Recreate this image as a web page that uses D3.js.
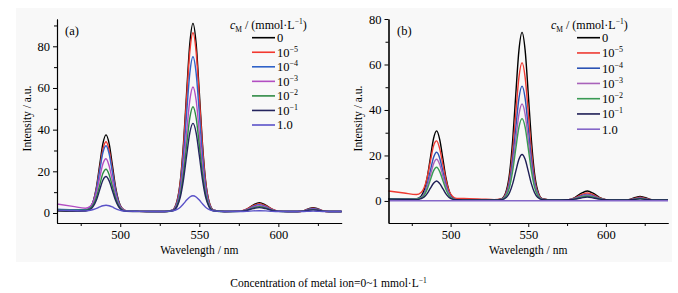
<!DOCTYPE html>
<html>
<head>
<meta charset="utf-8">
<script src="https://cdn.jsdelivr.net/npm/d3@7"></script>
<style>
  html, body { margin: 0; padding: 0; background: #ffffff; }
  svg { display: block; }
  text { font-family: "Liberation Serif", "Times New Roman", serif; fill: #000; }
</style>
</head>
<body>
<svg id="chart" width="678" height="293"></svg>
<script>
// ---------------- data ----------------
const wavelengths = [460, 470, 478, 481, 483, 485, 487, 489, 491, 493, 495, 497, 499, 501, 504, 512, 520, 528,
  533, 536, 538, 540, 542, 544, 546, 548, 550, 552, 554, 556, 559, 566,
  576, 580, 584, 588, 592, 596, 600, 606, 612, 616, 619, 622, 625, 628, 632, 640];

const legendBase = ["0", "10", "10", "10", "10", "10", "1.0"];
const legendExp  = ["", "\u22125", "\u22124", "\u22123", "\u22122", "\u22121", ""];

// panel (a)
const a_c0    = [1.0, 0.9, 1.0, 2.4, 5.8, 12.7, 23.1, 33.2, 37.5, 33.2, 23.1, 12.7, 5.8, 2.4, 1.0, 0.8, 0.7, 0.7, 1.4, 6.0, 15.4, 33.3, 58.0, 81.3, 91.0, 81.3, 58.0, 33.3, 15.4, 6.0, 1.4, 0.7, 0.9, 1.9, 3.8, 5.0, 3.8, 1.9, 0.9, 0.7, 0.7, 1.1, 2.0, 2.6, 2.0, 1.1, 0.7, 0.7];
const a_c1e5  = [1.6, 1.4, 1.4, 2.7, 5.7, 12.0, 21.4, 30.5, 34.2, 30.1, 21.0, 11.6, 5.3, 2.3, 1.0, 0.8, 0.7, 0.7, 1.4, 5.8, 14.7, 31.7, 55.2, 77.3, 86.5, 77.3, 55.2, 31.7, 14.7, 5.8, 1.4, 0.7, 0.9, 1.8, 3.5, 4.5, 3.5, 1.8, 0.9, 0.7, 0.7, 1.1, 1.8, 2.3, 1.8, 1.1, 0.7, 0.7];
const a_c1e4  = [1.8, 1.6, 1.6, 2.8, 5.6, 11.5, 20.3, 28.9, 32.3, 28.3, 19.7, 10.9, 5.0, 2.2, 1.0, 0.8, 0.7, 0.7, 1.3, 5.1, 12.8, 27.5, 47.9, 67.1, 75.0, 67.1, 47.9, 27.5, 12.8, 5.1, 1.3, 0.7, 0.9, 1.6, 3.1, 4.0, 3.1, 1.6, 0.9, 0.7, 0.7, 1.0, 1.7, 2.1, 1.7, 1.0, 0.7, 0.7];
const a_c1e3  = [4.3, 3.2, 2.3, 3.2, 5.4, 10.0, 16.9, 23.5, 26.0, 22.5, 15.8, 8.9, 4.2, 2.0, 1.0, 0.8, 0.8, 0.7, 1.2, 4.2, 10.5, 22.3, 38.7, 54.1, 60.5, 54.1, 38.7, 22.3, 10.5, 4.2, 1.2, 0.7, 0.9, 1.5, 2.7, 3.5, 2.7, 1.5, 0.9, 0.7, 0.7, 0.9, 1.5, 1.8, 1.5, 0.9, 0.7, 0.7];
const a_c1e2  = [1.6, 1.4, 1.4, 2.2, 4.0, 7.8, 13.4, 18.9, 21.0, 18.4, 12.9, 7.3, 3.5, 1.7, 0.9, 0.8, 0.7, 0.7, 1.1, 3.7, 8.9, 18.9, 32.6, 45.6, 51.0, 45.6, 32.6, 18.9, 8.9, 3.7, 1.1, 0.7, 0.8, 1.3, 2.4, 3.0, 2.4, 1.3, 0.8, 0.7, 0.7, 0.9, 1.3, 1.6, 1.3, 0.9, 0.7, 0.7];
const a_c1e1  = [1.2, 1.1, 1.1, 1.7, 3.3, 6.4, 11.1, 15.7, 17.5, 15.4, 10.8, 6.1, 3.0, 1.4, 0.8, 0.7, 0.7, 0.7, 1.0, 3.2, 7.6, 16.0, 27.6, 38.5, 43.0, 38.5, 27.6, 16.0, 7.6, 3.2, 1.0, 0.7, 0.8, 1.2, 2.1, 2.6, 2.1, 1.2, 0.8, 0.7, 0.7, 0.9, 1.3, 1.5, 1.3, 0.9, 0.7, 0.7];
const a_c1    = [1.4, 1.2, 1.0, 1.3, 1.7, 2.2, 2.9, 3.5, 3.7, 3.5, 2.9, 2.1, 1.5, 1.1, 0.9, 0.8, 0.7, 0.7, 1.0, 1.7, 2.8, 4.4, 6.2, 7.7, 8.3, 7.7, 6.2, 4.4, 2.8, 1.7, 1.0, 0.7, 0.7, 0.8, 1.0, 1.1, 1.0, 0.8, 0.7, 0.7, 0.7, 0.7, 0.8, 0.9, 0.8, 0.7, 0.7, 0.7];

// panel (b)
const b_c0    = [1.0, 0.9, 1.0, 2.1, 4.9, 10.6, 19.1, 27.4, 30.8, 27.0, 18.7, 10.2, 4.5, 1.7, 0.6, 0.4, 0.4, 0.4, 1.0, 4.8, 12.4, 27.0, 47.2, 66.2, 74.1, 66.2, 47.2, 27.0, 12.4, 4.8, 1.0, 0.4, 0.6, 1.5, 3.3, 4.4, 3.3, 1.5, 0.6, 0.4, 0.4, 0.8, 1.5, 2.0, 1.5, 0.8, 0.4, 0.4];
const b_c1e5  = [4.4, 3.5, 2.8, 3.7, 5.9, 10.6, 17.5, 24.2, 26.4, 22.9, 16.1, 9.2, 4.4, 2.2, 1.1, 1.0, 0.8, 0.6, 0.9, 4.0, 10.3, 22.2, 38.8, 54.3, 60.8, 54.3, 38.8, 22.2, 10.3, 4.0, 0.9, 0.5, 0.6, 1.3, 2.7, 3.5, 2.7, 1.3, 0.6, 0.4, 0.4, 0.7, 1.2, 1.6, 1.2, 0.7, 0.4, 0.4];
const b_c1e4  = [1.0, 0.9, 0.9, 1.7, 3.6, 7.6, 13.4, 19.1, 21.4, 18.8, 13.0, 7.2, 3.2, 1.3, 0.5, 0.4, 0.4, 0.4, 0.8, 3.4, 8.6, 18.5, 32.2, 45.1, 50.5, 45.1, 32.2, 18.5, 8.6, 3.4, 0.8, 0.4, 0.5, 1.1, 2.2, 2.8, 2.2, 1.1, 0.5, 0.4, 0.4, 0.6, 1.0, 1.3, 1.0, 0.6, 0.4, 0.4];
const b_c1e3  = [0.9, 0.8, 0.8, 1.5, 3.1, 6.5, 11.4, 16.3, 18.3, 16.0, 11.1, 6.2, 2.8, 1.2, 0.5, 0.4, 0.4, 0.4, 0.7, 2.9, 7.3, 15.6, 27.2, 38.1, 42.6, 38.1, 27.2, 15.6, 7.3, 2.9, 0.7, 0.4, 0.5, 1.0, 2.0, 2.6, 2.0, 1.0, 0.5, 0.4, 0.4, 0.6, 0.9, 1.2, 0.9, 0.6, 0.4, 0.4];
const b_c1e2  = [0.9, 0.8, 0.8, 1.3, 2.6, 5.3, 9.3, 13.2, 14.8, 12.9, 9.0, 5.0, 2.3, 1.0, 0.5, 0.4, 0.4, 0.4, 0.7, 2.5, 6.2, 13.3, 23.1, 32.4, 36.2, 32.4, 23.1, 13.3, 6.2, 2.5, 0.7, 0.4, 0.5, 0.9, 1.7, 2.2, 1.7, 0.9, 0.5, 0.4, 0.4, 0.5, 0.8, 1.0, 0.8, 0.5, 0.4, 0.4];
const b_c1e1  = [0.8, 0.7, 0.6, 1.0, 1.7, 3.3, 5.6, 7.8, 8.8, 7.6, 5.4, 3.1, 1.5, 0.8, 0.5, 0.4, 0.4, 0.4, 0.6, 1.6, 3.7, 7.6, 13.1, 18.3, 20.4, 18.3, 13.1, 7.6, 3.7, 1.6, 0.6, 0.4, 0.5, 0.8, 1.3, 1.7, 1.3, 0.8, 0.5, 0.4, 0.4, 0.5, 0.7, 0.9, 0.7, 0.5, 0.4, 0.4];
const b_c1    = [0.1, 0.1, 0.1, 0.1, 0.1, 0.1, 0.1, 0.1, 0.1, 0.1, 0.1, 0.1, 0.1, 0.1, 0.1, 0.1, 0.1, 0.1, 0.1, 0.1, 0.1, 0.1, 0.1, 0.1, 0.1, 0.1, 0.1, 0.1, 0.1, 0.1, 0.1, 0.1, 0.1, 0.1, 0.1, 0.1, 0.1, 0.1, 0.1, 0.1, 0.1, 0.1, 0.1, 0.1, 0.1, 0.1, 0.1, 0.1];

const xTicks = [500, 550, 600];
const xMinorTicks = [475, 525, 575, 625];
const yTicks = [0, 20, 40, 60, 80];
const yMinorTicksA = [10, 30, 50, 70, 90];
const yMinorTicksB = [10, 30, 50, 70];

const colorsA = ["#000000", "#f2382f", "#2f62c8", "#b24ec2", "#2e8a44", "#24245e", "#5a52c8"];
const colorsB = ["#000000", "#ee3a32", "#2a52b4", "#a862ba", "#3a9a55", "#1e1e55", "#8466c8"];

// ---------------- drawing ----------------
const svg = d3.select("#chart");
svg.append("rect").attr("x", 16).attr("y", 8).attr("width", 656).attr("height", 254).attr("fill", "#f8f8f8");

function drawPanel(cfg) {
  const x = d3.scaleLinear().domain([460, 640]).range(cfg.xRange);
  const y = d3.scaleLinear().domain(cfg.yDomain).range([223, 19]);
  const g = svg.append("g");

  const clipId = "clip" + cfg.tag;
  svg.append("clipPath").attr("id", clipId).append("rect")
    .attr("x", cfg.xRange[0]).attr("y", 19).attr("width", cfg.xRange[1] - cfg.xRange[0]).attr("height", 204);

  const line = d3.line().x((d, i) => x(wavelengths[i])).y(d => y(d)).curve(d3.curveMonotoneX);
  const lg = g.append("g").attr("clip-path", `url(#${clipId})`);
  cfg.series.forEach((s, k) => {
    lg.append("path").attr("d", line(s)).attr("fill", "none")
      .attr("stroke", cfg.colors[k]).attr("stroke-width", 1.4).attr("stroke-linejoin", "round");
  });

  // axes
  const xAxis = d3.axisBottom(x).tickValues(xTicks).tickSize(4).tickPadding(3).tickSizeOuter(0).tickFormat(d3.format("d"));
  const xMinor = d3.axisBottom(x).tickValues(xMinorTicks).tickSize(3).tickSizeOuter(0).tickFormat("");
  const yAxis = d3.axisLeft(y).tickValues(yTicks).tickSize(4).tickPadding(3).tickSizeOuter(0).tickFormat(d3.format("d"));
  const yMinor = d3.axisLeft(y).tickValues(cfg.yMinor).tickSize(3).tickSizeOuter(0).tickFormat("");

  const gx = g.append("g").attr("transform", "translate(0,223)").call(xAxis);
  g.append("g").attr("transform", "translate(0,223)").call(xMinor);
  const gy = g.append("g").attr("transform", `translate(${cfg.xRange[0]},0)`).call(yAxis);
  g.append("g").attr("transform", `translate(${cfg.xRange[0]},0)`).call(yMinor);
  g.selectAll(".domain").attr("stroke", "#000").attr("stroke-width", 1.1);
  g.selectAll(".tick line").attr("stroke", "#000");
  g.selectAll(".tick text").attr("font-family", "Liberation Serif, serif").attr("font-size", 12.5).attr("fill", "#000");

  // axis titles
  g.append("text").attr("x", (cfg.xRange[0] + cfg.xRange[1]) / 2).attr("y", 254)
    .attr("text-anchor", "middle").attr("font-size", 11.5).text("Wavelength / nm");
  g.append("text").attr("transform", `translate(${cfg.yTitleX},118.5) rotate(-90)`)
    .attr("text-anchor", "middle").attr("font-size", 11.5).text("Intensity / a.u.");

  // panel tag
  g.append("text").attr("x", cfg.tagX).attr("y", 35).attr("font-size", 12.5).text(cfg.tag);

  // legend
  const lt = g.append("text").attr("x", cfg.legTitleX).attr("y", 28.5).attr("font-size", 12);
  lt.append("tspan").attr("font-style", "italic").text("c");
  lt.append("tspan").attr("font-size", 7.5).attr("dy", 3).text("M");
  lt.append("tspan").attr("dy", -3).text(" / (mmol\u00B7L");
  lt.append("tspan").attr("font-size", 7.5).attr("dy", -4.5).text("\u22121");
  lt.append("tspan").attr("dy", 4.5).text(")");

  legendBase.forEach((b, k) => {
    const yy = cfg.legY0 + k * cfg.legDy;
    g.append("line").attr("x1", cfg.legLineX).attr("x2", cfg.legLineX + 23)
      .attr("y1", yy).attr("y2", yy).attr("stroke", cfg.colors[k]).attr("stroke-width", 1.6);
    const t = g.append("text").attr("x", cfg.legLineX + 25).attr("y", yy + 4.3).attr("font-size", 12.5);
    t.append("tspan").text(b);
    if (legendExp[k]) {
      t.append("tspan").attr("font-size", 8).attr("dy", -5).text(legendExp[k]);
    }
  });
}

drawPanel({
  tag: "(a)", tagX: 65, xRange: [57, 341.6], yDomain: [-4.8, 93.1], yMinor: yMinorTicksA,
  series: [a_c0, a_c1e5, a_c1e4, a_c1e3, a_c1e2, a_c1e1, a_c1], colors: colorsA,
  yTitleX: 31, legTitleX: 230, legLineX: 252, legY0: 37.7, legDy: 14.55
});
drawPanel({
  tag: "(b)", tagX: 397, xRange: [388.5, 668], yDomain: [-9.7, 80], yMinor: yMinorTicksB,
  series: [b_c0, b_c1e5, b_c1e4, b_c1e3, b_c1e2, b_c1e1, b_c1], colors: colorsB,
  yTitleX: 362, legTitleX: 551, legLineX: 577, legY0: 37.7, legDy: 15.25
});

// caption
const cap = svg.append("text").attr("x", 328.5).attr("y", 287).attr("text-anchor", "middle").attr("font-size", 11.5);
cap.append("tspan").text("Concentration of metal ion=0~1 mmol\u00B7L");
cap.append("tspan").attr("font-size", 7.5).attr("dy", -4.5).text("\u22121");
</script>
</body>
</html>
